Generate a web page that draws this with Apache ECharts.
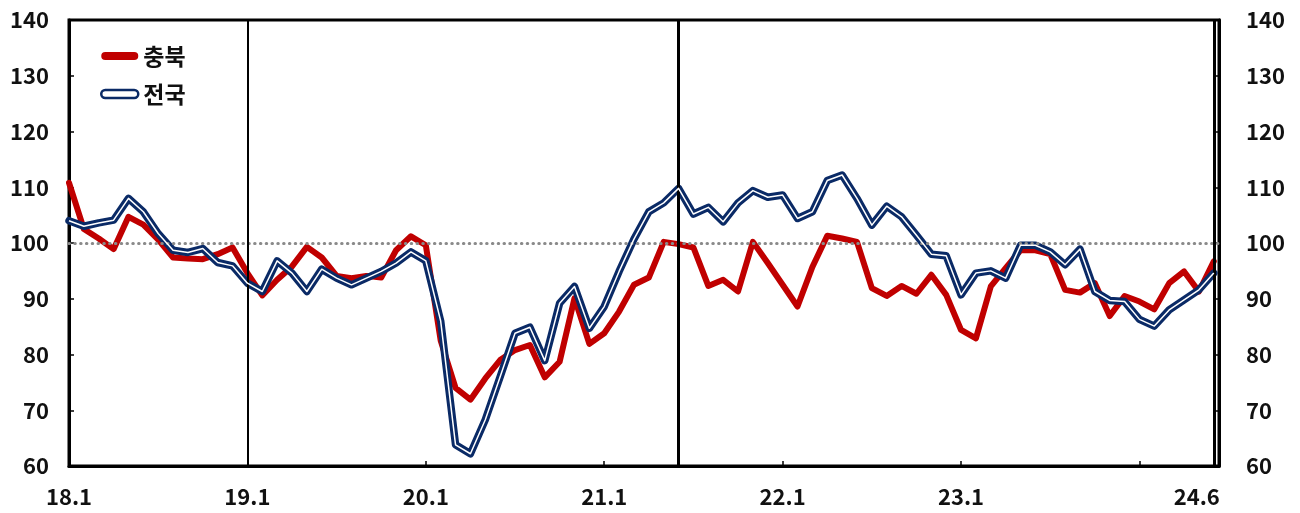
<!DOCTYPE html>
<html>
<head>
<meta charset="utf-8">
<script src="https://cdn.jsdelivr.net/npm/echarts@6/dist/echarts.min.js"></script>
<style>
html,body{margin:0;padding:0;background:#fff;}
#chart{width:1300px;height:513px;}
</style>
</head>
<body>
<div id="chart"></div>
<script>
// Monthly index, 2018.1 - 2024.6 (78 months)
const chungbuk = [
  110.8, 102.5, 100.8, 98.9, 104.7, 103.3, 100.6, 97.4, 97.2, 97.1, 98.0, 99.2,
  94.6, 90.6, 93.4, 95.8, 99.3, 97.4, 94.1, 93.7, 94.1, 93.8, 98.7, 101.2,
  99.6, 82.5, 74.0, 71.9, 75.7, 79.0, 80.8, 81.7, 75.9, 78.7, 90.1, 81.9,
  83.8, 87.7, 92.5, 93.8, 100.2, 99.8, 99.2, 92.3, 93.4, 91.3, 100.2, 96.4,
  92.5, 88.6, 95.7, 101.3, 100.8, 100.2, 91.9, 90.5, 92.3, 90.9, 94.3, 90.7,
  84.4, 82.9, 92.2, 95.5, 98.7, 98.7, 98.0, 91.6, 91.1, 92.8, 86.9, 90.5,
  89.5, 88.1, 92.8, 94.9, 91.3, 96.7
];
const national = [
  104.0, 103.0, 103.6, 104.1, 108.0, 105.6, 101.7, 98.7, 98.3, 99.0, 96.5, 95.9,
  92.8, 91.3, 96.8, 94.6, 91.3, 95.3, 93.7, 92.5, 93.7, 94.9, 96.4, 98.4,
  96.8, 86.0, 63.8, 62.2, 68.3, 76.0, 83.8, 84.9, 78.9, 89.2, 92.2, 84.7,
  88.6, 94.9, 100.7, 105.6, 107.2, 109.8, 105.2, 106.4, 103.8, 107.2, 109.4, 108.2,
  108.6, 104.4, 105.6, 111.2, 112.2, 108.0, 103.2, 106.6, 104.7, 101.4, 98.0, 97.7,
  90.7, 94.6, 95.0, 93.7, 99.6, 99.6, 98.4, 96.1, 98.9, 91.3, 89.7, 89.5,
  86.3, 85.1, 88.0, 89.8, 91.6, 94.6
];
// x tick labels (month index from 18.1) and positions
const xLabelPos = [0, 12, 24, 36, 48, 60, 77];
const xLabelText = ['18.1', '19.1', '20.1', '21.1', '22.1', '23.1', '24.6'];
const xTickPos = [12, 24, 36, 48, 60, 72];
const vLines = [12, 41, 77];
const baseLine = 100;
const seriesNames = ['충북', '전국'];

const RED = '#C00000';
const NAVY = '#0A2A66';
const FONT = '"Noto Sans CJK KR", "Noto Sans", sans-serif';

const toPairs = arr => arr.map((v, i) => [i, v]);

const chart = echarts.init(document.getElementById('chart'), null, {renderer: 'canvas'});

const yAxisCommon = {
  type: 'value', min: 60, max: 140, interval: 10,
  axisLine: {show: true, lineStyle: {color: '#000', width: 3}},
  axisTick: {show: true, inside: true, length: 5, lineStyle: {color: '#000', width: 1.5}},
  splitLine: {show: false},
  axisLabel: {color: '#111', fontSize: 22, fontWeight: 'bold', fontFamily: FONT}
};

chart.setOption({
  animation: false,
  backgroundColor: '#fff',
  grid: {left: 69, right: 81, top: 20, bottom: 47, show: true, borderColor: '#000', borderWidth: 3, backgroundColor: 'transparent'},
  legend: {
    orient: 'vertical', left: 95, top: 38,
    itemWidth: 37, itemHeight: 8, itemGap: 12,
    textStyle: {fontSize: 23, fontWeight: 'bold', color: '#111', fontFamily: FONT, lineHeight: 26},
    data: [
      {name: seriesNames[0], icon: 'path://M4,0 L33,0 A4,4 0 0 1 33,8 L4,8 A4,4 0 0 1 4,0 Z', itemStyle: {color: RED}},
      {name: seriesNames[1], icon: 'path://M4,0 L33,0 A4,4 0 0 1 33,8 L4,8 A4,4 0 0 1 4,0 Z', itemStyle: {color: '#fff', borderColor: NAVY, borderWidth: 2.5}}
    ]
  },
  xAxis: {
    type: 'value', min: 0, max: 77.35,
    axisLine: {show: true, onZero: false, lineStyle: {color: '#000', width: 3}},
    axisTick: {show: true, inside: true, length: 5, customValues: xTickPos, lineStyle: {color: '#000', width: 1.5}},
    splitLine: {show: false},
    axisLabel: {
      customValues: xLabelPos,
      margin: 20,
      color: '#111', fontSize: 22, fontWeight: 'bold', fontFamily: FONT,
      formatter: v => {
        const k = xLabelPos.indexOf(Math.round(v));
        if (k < 0) return '';
        return k === xLabelPos.length - 1 ? '{e|' + xLabelText[k] + '}' : xLabelText[k];
      },
      rich: {e: {fontSize: 22, fontWeight: 'bold', fontFamily: FONT, color: '#111', padding: [0, 34, 0, 0]}}
    }
  },
  yAxis: [
    Object.assign({position: 'left'}, yAxisCommon, {axisLabel: Object.assign({}, yAxisCommon.axisLabel, {margin: 20})}),
    Object.assign({position: 'right'}, yAxisCommon, {axisLabel: Object.assign({}, yAxisCommon.axisLabel, {margin: 27})})
  ],
  series: [
    {
      name: seriesNames[0], type: 'line', data: toPairs(chungbuk), showSymbol: false, symbol: 'none',
      lineStyle: {color: RED, width: 6, join: 'round', cap: 'round'}, itemStyle: {color: RED}, z: 3,
      markLine: {
        silent: true, symbol: 'none', label: {show: false}, animation: false,
        data: [
          {yAxis: baseLine, lineStyle: {color: '#8a8a8a', width: 3, type: [0.5, 5.3], cap: 'round'}},
          {xAxis: vLines[0], lineStyle: {color: '#000', width: 2, type: 'solid'}},
          {xAxis: vLines[1], lineStyle: {color: '#000', width: 3, type: 'solid'}},
          {xAxis: vLines[2], lineStyle: {color: '#000', width: 3, type: 'solid'}}
        ]
      }
    },
    {
      name: seriesNames[1], type: 'line', data: toPairs(national), showSymbol: false, symbol: 'none',
      lineStyle: {color: NAVY, width: 7.5, join: 'round', cap: 'round'}, itemStyle: {color: NAVY}, z: 4
    },
    {
      name: seriesNames[1] + ' ', type: 'line', data: toPairs(national), showSymbol: false, symbol: 'none',
      lineStyle: {color: '#fff', width: 1.5, join: 'round'}, itemStyle: {color: '#fff'}, z: 5
    }
  ]
});
</script>
</body>
</html>
